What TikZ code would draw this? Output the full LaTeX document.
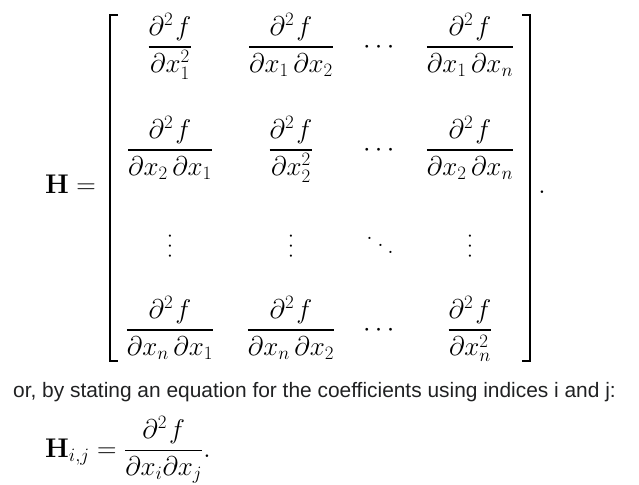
\RequirePackage{fix-cm}
\documentclass[tikz,border=0pt]{standalone}
\usepackage{amsmath}
\usepackage{amssymb}
\usepackage[no-math]{fontspec}
\newfontfamily\notefont{Liberation Sans}
\usepackage{tikz}

\definecolor{notegray}{RGB}{32,33,34}

% second derivative numerator, with the small gap of the original
\newcommand{\dtwof}{\partial^2\mkern1.5mu f}
% three dots in a row, turned by the node
\newcommand{\dotrow}[1]{\hbox{.\kern#1.\kern#1.}}

\begin{document}
\begin{tikzpicture}
		[x=1pt, y=-1pt,
		cell/.style={inner sep=0pt, anchor=base, font=\fontsize{27}{32}\selectfont},
		dotcell/.style={inner sep=0pt, font=\fontsize{27}{32}\selectfont},
		brack/.style={line width=2.2pt}]
		\useasboundingbox (0,0) rectangle (639,484);
		
		\node[cell, anchor=base west] (lhs) at (45,193) {$\mathbf{H} =$};
		
		% row 1
		\node[cell] (h11) at (170,53.75) {$\dfrac{\dtwof}{\partial x_1^2}$};
		\node[cell] (h12) at (291,53.75) {$\dfrac{\dtwof}{\partial x_1\,\partial x_2}$};
		\node[cell] (h13) at (381,53.75) {$\cdots$};
		\node[cell] (h14) at (470,53.75) {$\dfrac{\dtwof}{\partial x_1\,\partial x_n}$};
		
		% row 2
		\node[cell] (h21) at (170,156.75) {$\dfrac{\dtwof}{\partial x_2\,\partial x_1}$};
		\node[cell] (h22) at (291,156.75) {$\dfrac{\dtwof}{\partial x_2^2}$};
		\node[cell] (h23) at (381,156.75) {$\cdots$};
		\node[cell] (h24) at (470,156.75) {$\dfrac{\dtwof}{\partial x_2\,\partial x_n}$};
		
		% row 3
		\foreach \x/\c in {170/1, 291/2, 470/4}
		\node[dotcell, rotate=90] (h3\c) at (\x,246) {\dotrow{0.13em}};
		\node[dotcell, rotate=-33] (h33) at (380.5,245.5) {\dotrow{0.23em}};
		
		% row 4
		\node[cell] (h41) at (170,336.75) {$\dfrac{\dtwof}{\partial x_n\,\partial x_1}$};
		\node[cell] (h42) at (291,336.75) {$\dfrac{\dtwof}{\partial x_n\,\partial x_2}$};
		\node[cell] (h43) at (381,336.75) {$\cdots$};
		\node[cell] (h44) at (470,336.75) {$\dfrac{\dtwof}{\partial x_n^2}$};
		
		\draw[brack] (118,15) -- (110,15) -- (110,361) -- (118,361);
		\draw[brack] (522,15) -- (530,15) -- (530,361) -- (522,361);
		\node[cell] (stop) at (542,193.5) {$.$};
		
		\node[inner sep=0pt, anchor=base west, text=notegray, font=\notefont\fontsize{20.9}{25}\selectfont] (note) at (13,397) {or, by stating an equation for the coefficients using indices i and j:};
		
		\node[cell, anchor=base west] (hij) at (45,457) {$\mathbf{H}_{i,j} = \dfrac{\dtwof}{\partial x_i\partial x_j}.$};
		\end{tikzpicture}
\end{document}
